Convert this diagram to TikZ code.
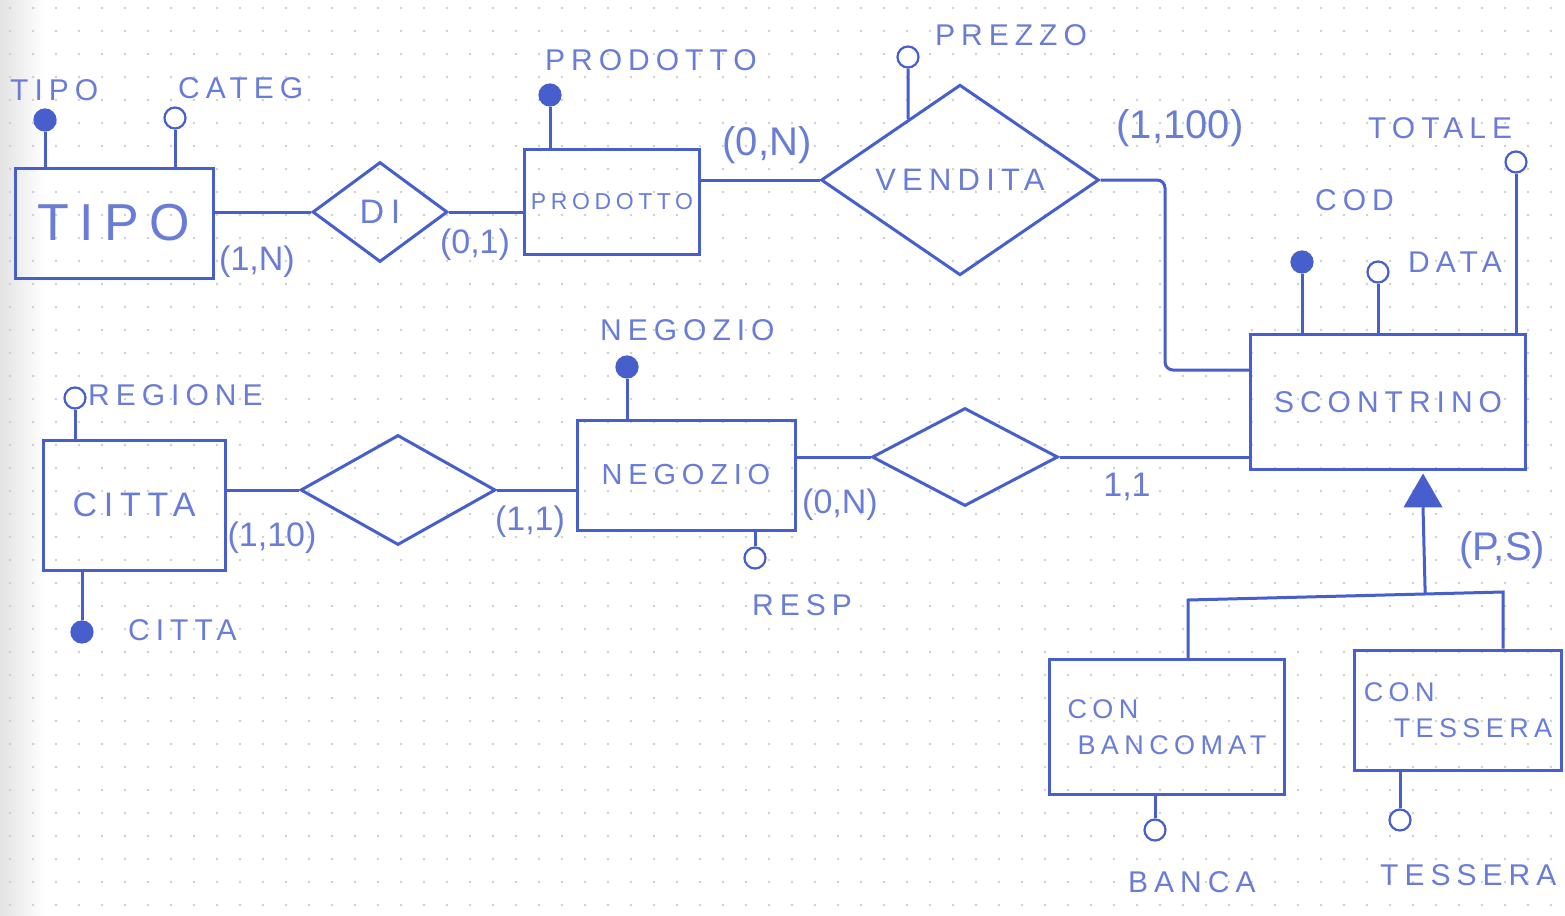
\documentclass[tikz,border=0pt]{standalone}
\usepackage{fontspec}
\setmainfont{Liberation Sans}
\newfontfamily\hand[LetterSpace=20]{Liberation Sans}
\usetikzlibrary{shapes.geometric,calc}
\definecolor{ink}{RGB}{70,95,205}
\definecolor{inktext}{RGB}{105,125,215}
\definecolor{dotc}{RGB}{205,205,212}
\begin{document}
\begin{tikzpicture}[x=1pt,y=-1pt,
 ent/.style={draw=ink, line width=3pt, inner sep=0pt, text=inktext},
 rel/.style={diamond, draw=ink, line width=3pt, inner sep=0pt, text=inktext},
 key/.style={circle, draw=ink, fill=ink, line width=2.2pt, minimum size=21pt, inner sep=0pt},
 att/.style={circle, draw=ink, fill=white, line width=2.2pt, minimum size=21pt, inner sep=0pt},
 lab/.style={text=inktext, font=\hand\fontsize{30}{32}\selectfont, inner sep=0pt, anchor=west},
 card/.style={text=inktext, font=\fontsize{34}{36}\selectfont, inner sep=0pt},
 conn/.style={draw=ink, line width=3pt},
]
\useasboundingbox (0,0) rectangle (1565,915);
\fill[white] (0,0) rectangle (1565,915);
\shade[left color=gray!22, right color=white] (0,0) rectangle (45,915);
\foreach \i in {0,...,68} \foreach \j in {0,...,39} \fill[dotc] (\i*23+10,\j*23+8) circle (1.3pt);

% entities
\node[ent, minimum width=198pt, minimum height=110pt, font=\hand\fontsize{52}{54}\selectfont] (tipo) at (114,223) {TIPO};
\node[ent, minimum width=175pt, minimum height=105pt, font=\hand\fontsize{23}{25}\selectfont] (prodotto) at (612,202) {PRODOTTO};
\node[ent, minimum width=275pt, minimum height=135pt, font=\hand\fontsize{30}{32}\selectfont] (scontrino) at (1388,402) {SCONTRINO};
\node[ent, minimum width=218pt, minimum height=110pt, font=\hand\fontsize{29}{31}\selectfont] (negozio) at (686,475) {NEGOZIO};
\node[ent, minimum width=182pt, minimum height=130pt, font=\hand\fontsize{34}{36}\selectfont] (citta) at (134,505) {CITTA};
\node[ent, minimum width=235pt, minimum height=135pt, font=\hand\fontsize{27}{36}\selectfont, align=left] (conban) at (1167,727) {CON\\\hspace{10pt}BANCOMAT};
\node[ent, minimum width=207pt, minimum height=120pt, font=\hand\fontsize{27}{36}\selectfont, align=left] (contes) at (1458,710) {CON\\\hspace{30pt}TESSERA};

% relationships
\node[rel, minimum width=135pt, minimum height=100pt, font=\hand\fontsize{34}{36}\selectfont] (di) at (380,212) {DI};
\node[rel, minimum width=278pt, minimum height=133pt, font=\hand\fontsize{31}{33}\selectfont] (vendita) at (960,180) {VENDITA};
\node[rel, minimum width=186pt, minimum height=98pt] (r2) at (965,457) {};
\node[rel, minimum width=195pt, minimum height=110pt] (r3) at (398,490) {};

% generalization triangle
\node[regular polygon, regular polygon sides=3, fill=ink, draw=ink, line width=1.5pt, minimum size=42pt, inner sep=0pt] (gen) at (1423,496) {};

% attributes
\node[key] (tipoK) at (45,120) {};
\node[lab] (tipoL) at (10,90) {TIPO};
\node[att] (categA) at (175,118) {};
\node[lab] (categL) at (178,88) {CATEG};
\node[key] (prodK) at (550,95) {};
\node[lab] (prodL) at (545,60) {PRODOTTO};
\node[att] (prezA) at (908,57) {};
\node[lab] (prezL) at (935,35) {PREZZO};
\node[key] (codK) at (1302,262) {};
\node[lab] (codL) at (1315,200) {COD};
\node[att] (dataA) at (1378,272) {};
\node[lab] (dataL) at (1408,262) {DATA};
\node[att] (totA) at (1516,162) {};
\node[lab] (totL) at (1368,128) {TOTALE};
\node[key] (negK) at (627,367) {};
\node[lab] (negL) at (600,330) {NEGOZIO};
\node[att] (respA) at (755,558) {};
\node[lab] (respL) at (752,605) {RESP};
\node[att] (regA) at (75,398) {};
\node[lab] (regL) at (88,395) {REGIONE};
\node[key] (cittaK) at (82,632) {};
\node[lab] (cittaL) at (128,630) {CITTA};
\node[att] (bancaA) at (1155,830) {};
\node[lab] (bancaL) at (1128,882) {BANCA};
\node[att] (tessA) at (1400,820) {};
\node[lab] (tessL) at (1380,875) {TESSERA};

% attribute stems
\draw[conn] (tipoK) -- (tipoK |- tipo.north);
\draw[conn] (categA) -- (categA |- tipo.north);
\draw[conn] (prodK) -- (prodK |- prodotto.north);
\draw[conn] (prezA) -- ($(vendita.west)!0.63!(vendita.north)$);
\draw[conn] (codK) -- (codK |- scontrino.north);
\draw[conn] (dataA) -- (dataA |- scontrino.north);
\draw[conn] (totA) -- (totA |- scontrino.north);
\draw[conn] (negK) -- (negK |- negozio.north);
\draw[conn] (respA) -- (respA |- negozio.south);
\draw[conn] (regA) -- (regA |- citta.north);
\draw[conn] (cittaK) -- (cittaK |- citta.south);
\draw[conn] (bancaA) -- (bancaA |- conban.south);
\draw[conn] (tessA) -- (tessA |- contes.south);

% relationship lines
\draw[conn] (di.west -| tipo.east) -- (di.west);
\draw[conn] (di.east) -- (di.east -| prodotto.west);
\draw[conn] (vendita.west -| prodotto.east) -- (vendita.west);
\coordinate (bend) at (1165,180);
\draw[conn, rounded corners=8pt] (vendita.east) -- (bend) |- ($(scontrino.west)+(0,-32)$);
\draw[conn] (r2.east) -- (r2.east -| scontrino.west);
\draw[conn] (r2.west) -- (r2.west -| negozio.east);
\draw[conn] (r3.east) -- (r3.east -| negozio.west);
\draw[conn] (r3.west) -- (r3.west -| citta.east);

% generalization
\coordinate (bl) at (1188,600);
\coordinate (br) at (1503,592);
\draw[conn] (bl |- conban.north) -- (bl) -- (br) -- (br |- contes.north);
\draw[conn] (gen.south) -- ($(bl)!(gen.south)!(br)$);

% cardinalities
\node[card] (c1) at (257,262) {(1,N)};
\node[card] (c2) at (475,245) {(0,1)};
\node[card, font=\fontsize{40}{42}\selectfont] (c3) at (767,145) {(0,N)};
\node[card, font=\fontsize{40}{42}\selectfont] (c4) at (1180,128) {(1,100)};
\node[card] (c5) at (1127,487) {1,1};
\node[card] (c6) at (840,505) {(0,N)};
\node[card] (c7) at (530,522) {(1,1)};
\node[card] (c8) at (272,538) {(1,10)};
\node[card, font=\fontsize{40}{42}\selectfont] (c9) at (1502,550) {(P,S)};
\end{tikzpicture}
\end{document}
